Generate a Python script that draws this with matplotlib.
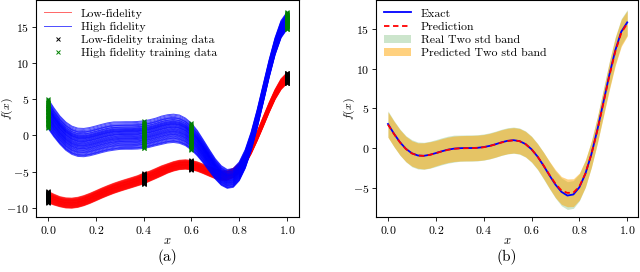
import numpy as np
import matplotlib
matplotlib.use('Agg')
import matplotlib.pyplot as plt

plt.rcParams['font.family'] = ['cmr10', 'DejaVu Serif']
plt.rcParams['mathtext.fontset'] = 'cm'
plt.rcParams['axes.formatter.use_mathtext'] = True
plt.rcParams['axes.unicode_minus'] = True

#%% datos
x_grid = np.linspace(0, 1, 41)

hf_mean = [3.03, 1.81, 0.74, -0.10, -0.66, -0.94, -0.98, -0.85, -0.64, -0.41,
           -0.21, -0.08, -0.02, 0.00, 0.00, 0.03, 0.12, 0.27, 0.48, 0.72,
           0.91, 0.99, 0.87, 0.50, -0.15, -1.07, -2.21, -3.44, -4.61, -5.52,
           -5.99, -5.85, -4.95, -3.25, -0.80, 2.27, 5.71, 9.19, 12.30, 14.65,
           15.83]
lf_mean = [-8.49, -8.84, -9.13, -9.30, -9.33, -9.22, -8.99, -8.68, -8.32, -7.95,
           -7.61, -7.29, -7.01, -6.75, -6.50, -6.24, -5.94, -5.62, -5.26, -4.89,
           -4.55, -4.26, -4.06, -4.00, -4.08, -4.29, -4.61, -4.97, -5.31, -5.51,
           -5.50, -5.17, -4.48, -3.38, -1.90, -0.11, 1.86, 3.84, 5.65, 7.07,
           7.92]
hf_spread = [2.05, 2.0, 1.95, 1.95, 1.95, 1.95, 1.95, 1.95, 1.95, 1.95,
             1.95, 1.95, 1.9, 1.9, 1.9, 1.9, 1.9, 1.9, 1.9, 1.95,
             1.95, 1.95, 1.95, 1.9, 1.85, 1.75, 1.6, 1.5, 1.4, 1.35,
             1.3, 1.3, 1.3, 1.3, 1.3, 1.3, 1.3, 1.25, 1.2, 1.2,
             1.2]
lf_spread = [0.8, 0.75, 0.7, 0.7, 0.7, 0.7, 0.7, 0.7, 0.7, 0.7,
             0.7, 0.7, 0.7, 0.7, 0.7, 0.7, 0.75, 0.7, 0.7, 0.7,
             0.65, 0.65, 0.65, 0.65, 0.65, 0.65, 0.65, 0.65, 0.65, 0.65,
             0.65, 0.65, 0.65, 0.65, 0.65, 0.65, 0.7, 0.7, 0.7, 0.75,
             0.75]
# posicion relativa de cada muestra dentro de la banda
hf_samples = [-1.0, -0.94, -0.9, -0.86, -0.8, -0.74, -0.7, -0.66, -0.61, -0.56,
              -0.52, -0.47, -0.43, -0.4, -0.35, -0.31, -0.27, -0.23, -0.2, -0.16,
              -0.12, -0.08, -0.04, 0.0, 0.05, 0.08, 0.11, 0.15, 0.19, 0.23,
              0.27, 0.3, 0.33, 0.36, 0.4, 0.43, 0.47, 0.5, 0.55, 0.6,
              0.63, 0.7, 0.74, 0.78, 0.85, 0.93, 1.0]
lf_samples = [-1.0, -0.93, -0.88, -0.84, -0.78, -0.73, -0.69, -0.62, -0.58, -0.55,
              -0.49, -0.45, -0.42, -0.35, -0.31, -0.28, -0.22, -0.18, -0.15, -0.09,
              -0.05, -0.02, 0.04, 0.07, 0.1, 0.14, 0.17, 0.24, 0.29, 0.33,
              0.37, 0.42, 0.46, 0.49, 0.53, 0.57, 0.64, 0.68, 0.71, 0.79,
              0.86, 0.92, 1.0]
train_idx = [0, 16, 24, 40]  # x = 0, 0.4, 0.6, 1.0

exact = hf_mean
prediction = [2.95, 1.78, 0.72, -0.12, -0.68, -0.95, -0.99, -0.86, -0.65, -0.42,
              -0.23, -0.10, -0.04, -0.02, -0.01, 0.02, 0.10, 0.25, 0.46, 0.70,
              0.88, 0.97, 0.86, 0.49, -0.15, -1.06, -2.18, -3.38, -4.50, -5.35,
              -5.65, -5.62, -4.85, -3.22, -0.80, 2.22, 5.62, 9.05, 12.15, 14.50,
              15.70]
real_band = [1.65, 1.65, 1.65, 1.65, 1.7, 1.7, 1.7, 1.7, 1.7, 1.7,
             1.7, 1.7, 1.65, 1.65, 1.65, 1.65, 1.65, 1.65, 1.65, 1.65,
             1.65, 1.65, 1.65, 1.65, 1.65, 1.65, 1.7, 1.7, 1.7, 1.75,
             1.75, 1.75, 1.7, 1.7, 1.65, 1.65, 1.65, 1.7, 1.7, 1.65,
             1.6]
pred_band = [1.6, 1.6, 1.6, 1.6, 1.6, 1.6, 1.65, 1.65, 1.6, 1.6,
             1.6, 1.6, 1.6, 1.6, 1.6, 1.6, 1.6, 1.6, 1.6, 1.6,
             1.6, 1.6, 1.6, 1.6, 1.6, 1.6, 1.65, 1.7, 1.75, 1.75,
             1.75, 1.75, 1.7, 1.7, 1.65, 1.65, 1.7, 1.75, 1.75, 1.7,
             1.6]

#%% figura
fig = plt.figure(figsize=(6.4, 2.72), dpi=100)
ax1 = fig.add_axes([36/640, 55/272, 263/640, 217/272])
ax2 = fig.add_axes([376/640, 55/272, 262/640, 217/272])

hf_mean = np.array(hf_mean)
lf_mean = np.array(lf_mean)
hf_spread = np.array(hf_spread)
lf_spread = np.array(lf_spread)

for i, k in enumerate(lf_samples):
    ax1.plot(x_grid, lf_mean + k*lf_spread, color='r', lw=0.7, alpha=0.6,
             label='Low-fidelity' if i == 0 else None)
for i, k in enumerate(hf_samples):
    ax1.plot(x_grid, hf_mean + k*hf_spread, color='b', lw=0.7, alpha=0.7,
             label='High fidelity' if i == 0 else None)
for i, k in enumerate(lf_samples):
    yy = (lf_mean + k*lf_spread)[train_idx]
    ax1.plot(x_grid[train_idx], yy, 'x', color='k', ms=3, mew=0.7,
             label='Low-fidelity training data' if i == 0 else None)
for i, k in enumerate(hf_samples):
    yy = (hf_mean + k*hf_spread)[train_idx]
    ax1.plot(x_grid[train_idx], yy, 'x', color='g', ms=3, mew=0.7,
             label='High fidelity training data' if i == 0 else None)

ax1.set_xlim(-0.05, 1.05)
ax1.set_ylim(-11.24, 18.68)
ax1.set_xlabel('$x$', fontsize=9)
ax1.set_ylabel('$f(x)$', fontsize=8.5)
ax1.xaxis.set_label_coords(0.5, -0.082)
ax1.yaxis.set_label_coords(-0.078, 0.5)
ax1.legend(loc='upper left', frameon=False, fontsize=8.5, handlelength=2.3,
           labelspacing=0.25, bbox_to_anchor=(0.0, 1.0), borderaxespad=0.3)

pred = np.array(prediction)
ax2.fill_between(x_grid, hf_mean - real_band, hf_mean + np.array(real_band),
                 color='g', alpha=0.2, lw=0, label='Real Two std band')
ax2.fill_between(x_grid, pred - pred_band, pred + np.array(pred_band),
                 color='orange', alpha=0.5, lw=0, label='Predicted Two std band')
ax2.plot(x_grid, exact, color='b', lw=1.3, label='Exact')
ax2.plot(x_grid, prediction, '--', color='r', lw=1.3, dashes=(3, 2),
         label='Prediction')
ax2.set_xlim(-0.05, 1.045)
ax2.set_ylim(-8.69, 18.65)
ax2.set_xlabel('$x$', fontsize=9)
ax2.set_ylabel('$f(x)$', fontsize=8.5)
ax2.xaxis.set_label_coords(0.5, -0.082)
ax2.yaxis.set_label_coords(-0.073, 0.5)
h, l = ax2.get_legend_handles_labels()
ax2.legend([h[2], h[3], h[0], h[1]], [l[2], l[3], l[0], l[1]],
           loc='upper left', frameon=False, fontsize=8.5, handlelength=2.3,
           labelspacing=0.25, bbox_to_anchor=(0.0, 1.0), borderaxespad=0.3)

for ax in (ax1, ax2):
    ax.tick_params(labelsize=8.5, length=3, width=0.6, pad=2)
    for s in ax.spines.values():
        s.set_linewidth(0.8)

fig.text(167/640, 1 - 257/272, '(a)', ha='center', va='center', fontsize=11)
fig.text(507/640, 1 - 257/272, '(b)', ha='center', va='center', fontsize=11)

plt.savefig('out.png', dpi=100)
